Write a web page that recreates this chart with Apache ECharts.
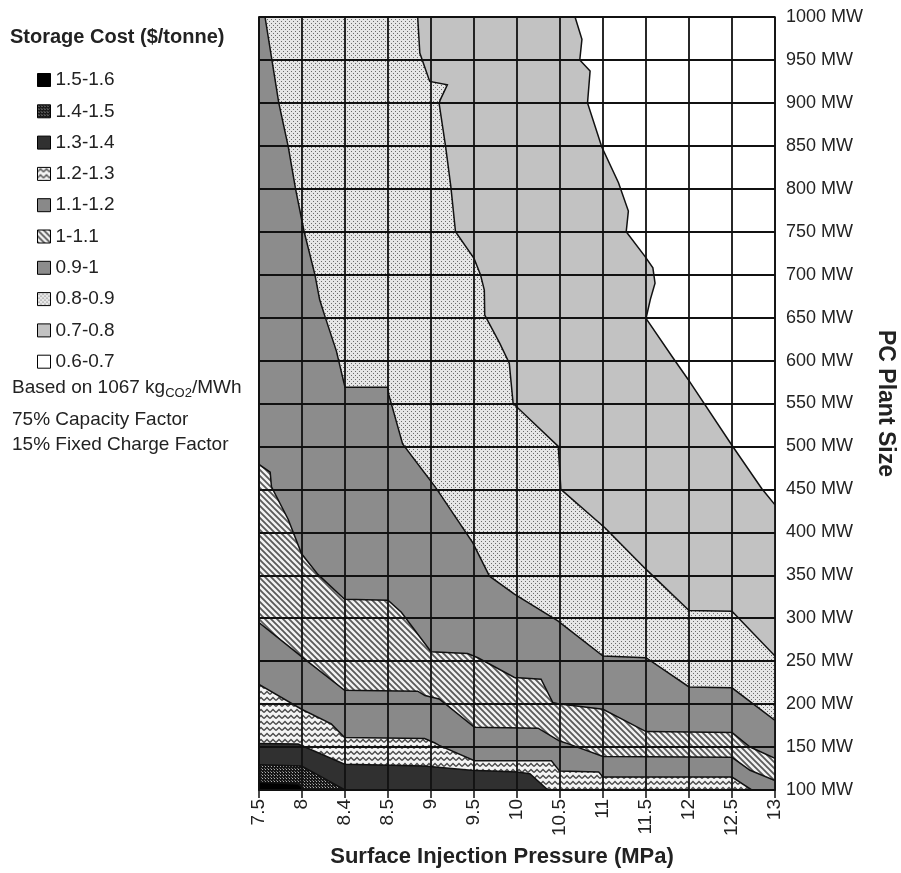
<!DOCTYPE html>
<html><head><meta charset="utf-8">
<script src="https://cdn.jsdelivr.net/npm/echarts@6/dist/echarts.min.js"></script>
<style>html,body{margin:0;padding:0;background:#fff}#c{width:901px;height:873px}</style>
</head><body><div id="c"></div>
<script>
// ---- data ----
const xLabels = ['7.5','8','8.4','8.5','9','9.5','10','10.5','11','11.5','12','12.5','13'];
const yMin = 100, yMax = 1000, yStep = 50;
const bandNames = ['1.5-1.6','1.4-1.5','1.3-1.4','1.2-1.3','1.1-1.2','1-1.1','0.9-1','0.8-0.9','0.7-0.8','0.6-0.7'];
// contour lines: [x category index, plant size MW]
const c07 = [[7.35,1000],[7.51,974],[7.46,950],[7.70,937],[7.64,900],[7.97,849],[8.36,807],[8.59,774],[8.54,750],[8.98,721],[9.16,708],[9.21,690],[9.10,671],[9.0,649],[9.63,603],[9.98,578],[10.99,502],[11.69,451],[12,432]];
const c08 = [[3.69,1000],[3.74,958],[3.97,925],[4.38,921],[4.21,903],[4.19,899],[4.34,849],[4.46,803],[4.57,750],[5.0,719],[5.15,700],[5.24,682],[5.25,653],[5.60,620],[5.82,597],[5.91,550],[6.96,500],[7.02,450],[8.05,405],[8.98,358],[10,309],[11,308],[12,256]];
const c09 = [[0.14,1000],[0.46,900],[0.68,849],[0.85,800],[1.05,750],[1.30,700],[1.41,671],[1.53,652],[1.80,611],[2.0,569],[2.99,569],[3.02,560],[3.34,503],[4.11,452],[4.97,388],[5.36,349],[5.94,328],[6.95,297],[8.0,256],[9,254],[10,220],[11,219],[12,181]];
const c10 = [[0,479],[0.26,470],[0.29,453],[0.68,415],[0.99,375],[1.37,351],[1.99,322],[3.0,321],[3.31,307],[4.0,261],[4.85,259],[5.09,254],[5.94,231],[6.56,229],[6.83,202],[7.0,200],[8.0,194],[9,168],[11,167],[11.42,150],[12,137]];
const c11 = [[0,295],[1.07,252],[1.99,216],[3.69,215],[3.86,210],[4.19,206],[5.01,173],[6.49,172],[6.99,157],[7.18,154],[8.0,139],[11,138],[11.42,123],[12,111]];
const c12 = [[0,223],[0.99,194],[1.68,177],[1.99,161],[3.85,160],[4.08,155],[4.19,152],[5.01,134],[6.80,134],[6.99,122],[7.9,121],[8.0,115],[11,115],[11.46,100]];
const c13 = [[0,154],[0.91,153.5],[1.99,130],[3.84,128],[4.93,123],[6.0,121],[6.3,119],[6.72,100]];
const c14 = [[0,129.4],[0.99,128],[2.0,100]];
const c15 = [[0,109],[0.91,107],[1.07,100]];

// ---- fills ----
function tile(w, h, draw) {
  const cv = document.createElement('canvas');
  cv.width = w; cv.height = h;
  draw(cv.getContext('2d'), w, h);
  return {image: cv, repeat: 'repeat'};
}
const fDots = tile(4, 4, (g) => {
  g.fillStyle = '#e6e6e6'; g.fillRect(0, 0, 4, 4);
  g.fillStyle = '#6a6a6a'; g.fillRect(1, 1, 1, 1); g.fillRect(3, 3, 1, 1);
});
const fDiag = tile(6, 6, (g) => {
  g.fillStyle = '#f2f2f2'; g.fillRect(0, 0, 6, 6);
  g.strokeStyle = '#5a5a5a'; g.lineWidth = 1.8;
  g.beginPath();
  g.moveTo(-1, -1); g.lineTo(7, 7);
  g.moveTo(-1, 5); g.lineTo(1, 7);
  g.moveTo(5, -1); g.lineTo(7, 1);
  g.stroke();
});
const fWave = tile(6, 6, (g) => {
  g.fillStyle = '#f4f4f4'; g.fillRect(0, 0, 6, 6);
  g.strokeStyle = '#4a4a4a'; g.lineWidth = 1.4;
  g.beginPath();
  g.moveTo(0, 4.5); g.lineTo(3, 1.5); g.lineTo(6, 4.5);
  g.stroke();
});
const fCheck = tile(3, 3, (g) => {
  g.fillStyle = '#161616'; g.fillRect(0, 0, 3, 3);
  g.fillStyle = '#b0b0b0'; g.fillRect(1, 1, 1, 1);
  g.fillStyle = '#6a6a6a'; g.fillRect(0, 0, 1, 1);
});

const bands = [
  // painted in this order (outer region first)
  {name: '0.6-0.7', fill: '#ffffff', line: null},
  {name: '0.7-0.8', fill: '#c2c2c2', line: c07},
  {name: '0.8-0.9', fill: fDots, line: c08},
  {name: '0.9-1', fill: '#8c8c8c', line: c09},
  {name: '1-1.1', fill: fDiag, line: c10},
  {name: '1.1-1.2', fill: '#898989', line: c11},
  {name: '1.2-1.3', fill: fWave, line: c12},
  {name: '1.3-1.4', fill: '#303030', line: c13},
  {name: '1.4-1.5', fill: fCheck, line: c14},
  {name: '1.5-1.6', fill: '#000000', line: c15}
];

const X_MIN = 0, X_MAX = xLabels.length - 1;

function makeSeries(b) {
  const line = b.line;
  return {
    type: 'custom', name: b.name, coordinateSystem: 'cartesian2d',
    itemStyle: {color: b.fill},
    encode: {x: 0, y: 1},
    data: line || [],
    clip: true, silent: true, animation: false,
    renderItem: function (params, api) {
      if (!line || params.dataIndex !== 0) return;
      const first = line[0], last = line[line.length - 1];
      const closing = [[last[0], yMin], [X_MIN, yMin], [X_MIN, first[1]]];
      const poly = line.concat(closing).map(p => api.coord(p));
      const path = line.map(p => api.coord(p));
      return {
        type: 'group',
        children: [
          {type: 'polygon', shape: {points: poly}, style: {fill: b.fill, stroke: null}},
          {type: 'polyline', shape: {points: path}, style: {fill: null, stroke: '#111', lineWidth: 1.5}}
        ]
      };
    }
  };
}

const FONT = 'Liberation Sans, Arial, sans-serif';
const chart = echarts.init(document.getElementById('c'), null, {renderer: 'canvas'});
chart.setOption({
  animation: false,
  backgroundColor: '#fff',
  textStyle: {fontFamily: FONT},
  grid: {left: 259, right: 126, top: 17, bottom: 83, containLabel: false, outerBoundsMode: 'none',
    show: true, backgroundColor: '#fff', borderColor: '#111', borderWidth: 1.5},
  legend: {
    data: bandNames, orient: 'vertical', left: 37, top: 70,
    itemWidth: 13, itemHeight: 13, itemGap: 11.3, padding: 0,
    icon: 'rect', selectedMode: false,
    itemStyle: {borderColor: '#000', borderWidth: 1},
    textStyle: {fontSize: 19, fontFamily: FONT, color: '#222', lineHeight: 20}
  },
  graphic: [
    {type: 'text', left: 10, top: 27, style: {text: 'Storage Cost ($/tonne)', font: 'bold 20px ' + FONT, fill: '#222'}},
    {type: 'text', left: 12, top: 378, style: {
      text: '{m|Based on 1067 kg}{s|CO2}{m|/MWh}',
      rich: {m: {fontSize: 19, fontFamily: FONT, fill: '#222', lineHeight: 24}, s: {fontSize: 13, fontFamily: FONT, fill: '#222', verticalAlign: 'bottom'}}
    }},
    {type: 'text', left: 12, top: 410, style: {text: '75% Capacity Factor', font: '19px ' + FONT, fill: '#222'}},
    {type: 'text', left: 12, top: 435, style: {text: '15% Fixed Charge Factor', font: '19px ' + FONT, fill: '#222'}}
  ],
  xAxis: {
    type: 'value', min: X_MIN, max: X_MAX, interval: 1, z: 10,
    name: 'Surface Injection Pressure (MPa)', nameLocation: 'middle', nameGap: 56,
    nameTextStyle: {fontSize: 22, fontWeight: 'bold', color: '#222', fontFamily: FONT, padding: [0, 30, 0, 0]},
    axisLine: {show: true, lineStyle: {color: '#111', width: 1.5}},
    axisTick: {show: true, length: 8, lineStyle: {color: '#111', width: 1.5}},
    splitLine: {show: true, lineStyle: {color: '#111', width: 1.8}},
    axisLabel: {rotate: 90, margin: 9, fontSize: 19, color: '#222', fontFamily: FONT,
      formatter: v => xLabels[Math.round(v)]}
  },
  yAxis: {
    type: 'value', min: yMin, max: yMax, interval: yStep, position: 'right', z: 10,
    name: 'PC Plant Size', nameLocation: 'middle', nameRotate: -90, nameGap: 96,
    nameTextStyle: {fontSize: 23, fontWeight: 'bold', color: '#222', fontFamily: FONT},
    axisLine: {show: true, lineStyle: {color: '#111', width: 1.5}},
    axisTick: {show: true, length: 8, lineStyle: {color: '#111', width: 1.5}},
    splitLine: {show: true, lineStyle: {color: '#111', width: 1.8}},
    axisLabel: {margin: 11, fontSize: 18, color: '#222', fontFamily: FONT, formatter: v => v + ' MW'}
  },
  series: bands.map(makeSeries)
});
</script></body></html>
